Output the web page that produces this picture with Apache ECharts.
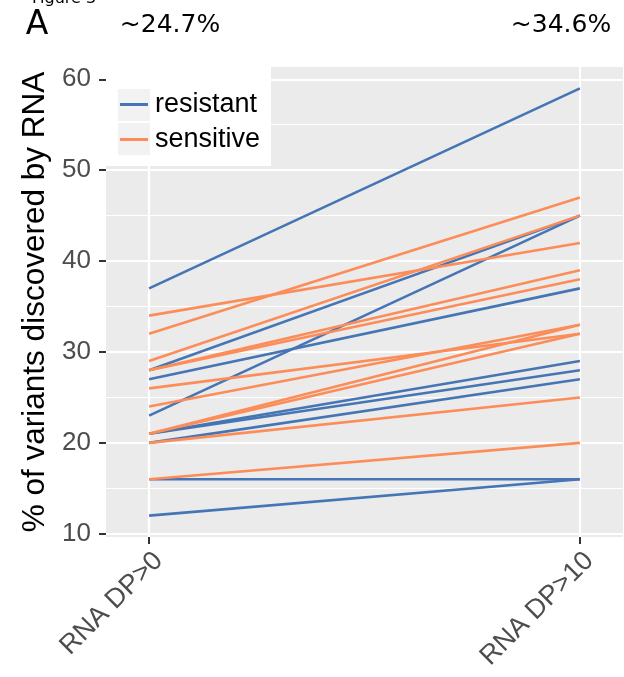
<!DOCTYPE html>
<html><head><meta charset="utf-8">
<script src="https://cdn.jsdelivr.net/npm/echarts@6/dist/echarts.min.js"></script>
<style>html,body{margin:0;padding:0;background:#fff}#c{width:624px;height:677px}</style>
</head><body><div id="c"></div>
<script>
const categories = ['RNA DP>0', 'RNA DP>10'];
const groupNames = ['resistant', 'sensitive'];
const resistantStart = [37, 28, 23, 27, 21, 21, 20, 16, 12];
const resistantEnd   = [59, 45, 45, 37, 29, 28, 27, 16, 16];
const sensitiveStart = [32, 34, 29, 28, 28, 26, 24, 21, 21, 20, 16];
const sensitiveEnd   = [47, 42, 45, 39, 38, 32, 33, 33, 32, 25, 20];
const yTicks = [10, 20, 30, 40, 50, 60];
const yMinorTicks = [15, 25, 35, 45, 55];
const topLabels = ['~24.7%', '~34.6%'];
const yTitle = '% of variants discovered by RNA';

const colors = { resistant: '#4575B4', sensitive: '#FC8D59' };
const FONT = 'Liberation Sans';

function mkSeries(name, starts, ends) {
  return starts.map((s, i) => ({
    type: 'line', name: name, symbol: 'none', silent: true, animation: false,
    xAxisIndex: 0, yAxisIndex: 0,
    data: [[0, s], [1, ends[i]]],
    lineStyle: { color: colors[name], width: 2.6 },
    itemStyle: { color: colors[name] }
  }));
}
const series = mkSeries('resistant', resistantStart, resistantEnd)
  .concat(mkSeries('sensitive', sensitiveStart, sensitiveEnd));

const chart = echarts.init(document.getElementById('c'), null, { renderer: 'canvas' });
chart.setOption({
  animation: false,
  grid: { left: 106, right: 1, top: 67, bottom: 140, show: true, backgroundColor: '#EBEBEB', borderWidth: 0 },
  xAxis: {
    type: 'value', min: -0.1, max: 1.1,
    axisLine: { show: false, onZero: false },
    axisTick: { show: true, customValues: [0, 1], length: 7, lineStyle: { color: '#333', width: 2 } },
    axisLabel: { customValues: [0, 1], formatter: v => categories[Math.round(v)], rotate: 45,
      verticalAlign: 'top', color: '#4D4D4D', fontSize: 27, fontFamily: FONT, margin: 10 },
    splitLine: { show: true, lineStyle: { color: '#fff', width: 2.2 } }
  },
  yAxis: [{
    type: 'value', min: 9.65, max: 61.35,
    axisLine: { show: false, onZero: false },
    axisTick: { show: true, customValues: yTicks, length: 7, lineStyle: { color: '#333', width: 2 } },
    axisLabel: { customValues: yTicks, color: '#4D4D4D', fontSize: 26, fontFamily: FONT, margin: 15 },
    splitLine: { show: true, lineStyle: { color: '#fff', width: 2.2 } },
    name: yTitle, nameLocation: 'middle', nameGap: 53,
    nameTextStyle: { color: '#000', fontSize: 31.5, fontFamily: FONT }
  }, {
    type: 'value', min: 9.65, max: 61.35, position: 'left',
    axisLine: { show: false, onZero: false },
    axisTick: { show: false, customValues: yMinorTicks },
    axisLabel: { show: false, customValues: yMinorTicks },
    splitLine: { show: true, lineStyle: { color: '#fff', width: 1.1 } }
  }],
  legend: {
    data: groupNames, orient: 'vertical', left: 120, top: 91, padding: 0,
    icon: 'rect', itemWidth: 28, itemHeight: 3, itemGap: 8, z: 20,
    textStyle: { fontSize: 27, fontFamily: FONT, color: '#000', lineHeight: 27, padding: [0, 0, 0, 2] },
    selectedMode: false
  },
  graphic: [
    { type: 'rect', z: 10, shape: { x: 106, y: 67, width: 165, height: 99 }, style: { fill: '#fff' } },
    { type: 'rect', z: 11, shape: { x: 118, y: 89, width: 32, height: 32 }, style: { fill: '#F2F2F2' } },
    { type: 'rect', z: 11, shape: { x: 118, y: 123, width: 32, height: 32 }, style: { fill: '#F2F2F2' } },
    { type: 'text', z: 12, x: 32, y: -1, style: { text: 'Figure 3', fontSize: 16, fontFamily: 'DejaVu Sans', fill: '#000', verticalAlign: 'middle' } },
    { type: 'text', z: 12, x: 37, y: 25, style: { text: 'A', fontSize: 33, fontFamily: 'DejaVu Sans', fill: '#000', align: 'center', verticalAlign: 'middle' } },
    { type: 'text', z: 12, x: 170, y: 25, style: { text: topLabels[0], fontSize: 25, fontFamily: 'DejaVu Sans', fill: '#000', align: 'center', verticalAlign: 'middle' } },
    { type: 'text', z: 12, x: 561, y: 25, style: { text: topLabels[1], fontSize: 25, fontFamily: 'DejaVu Sans', fill: '#000', align: 'center', verticalAlign: 'middle' } }
  ],
  series: series
});
</script></body></html>
